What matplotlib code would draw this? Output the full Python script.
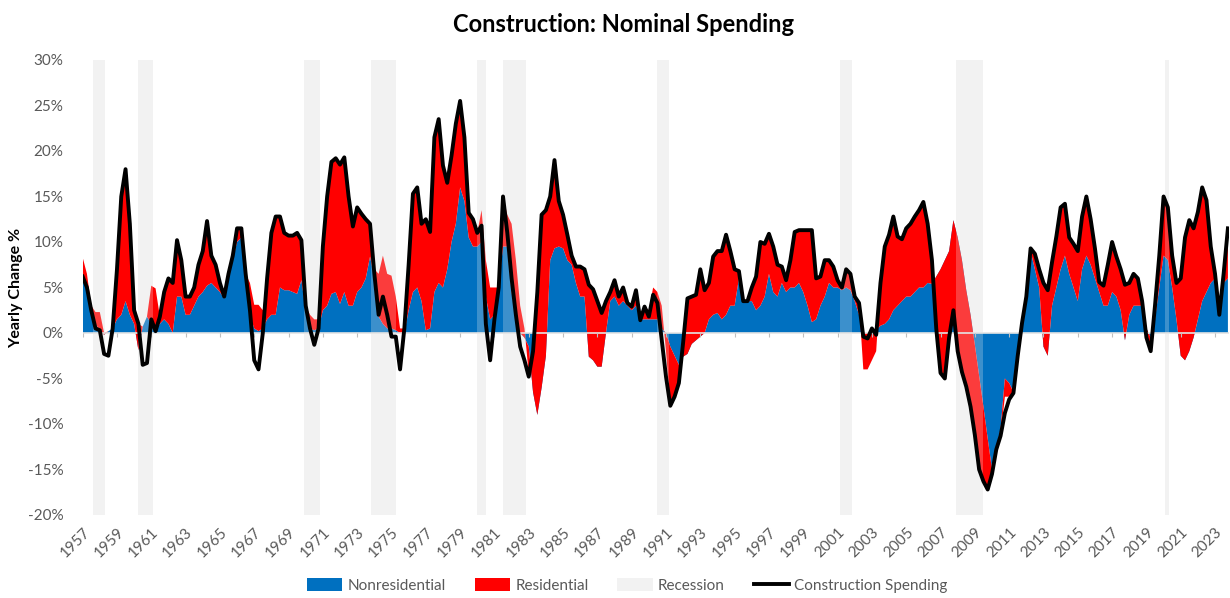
import numpy as np
import matplotlib
matplotlib.use('Agg')
import matplotlib.pyplot as plt
from matplotlib.patches import Patch
from matplotlib.lines import Line2D
from matplotlib.ticker import FuncFormatter

plt.rcParams['font.family'] = ['Lato', 'DejaVu Sans']

# quarterly observations, first quarter of 1957 through last quarter of 2023
start_year = 1957
n_years = 67

# contribution of nonresidential spending to yearly change (%)
nonres = [
    6.2, 5.0, 2.0, 1.0,     0.3, -0.2, 0.2, 0.5,    1.5, 2.0, 3.5, 2.0,     1.0, -1.9, 0.7, 1.8,
    1.0, 0.5, 1.0, 1.5,     1.0, 0.0, 4.0, 4.0,     2.0, 2.0, 3.0, 4.0,     4.5, 5.2, 5.5, 5.0,
    4.5, 3.8, 6.0, 8.0,     10.0, 10.5, 6.0, 2.0,   0.5, 0.2, 0.5, 1.5,     2.0, 2.0, 5.0, 4.7,
    4.7, 4.5, 4.3, 5.8,     2.5, 0.5, 0.3, 0.5,     2.5, 3.0, 4.3, 4.5,     3.2, 4.5, 3.0, 3.0,
    4.5, 5.0, 6.0, 8.4,     6.0, 1.8, 1.0, 0.5,     0.5, 0.3, 0.0, 0.0,     2.5, 4.5, 5.0, 3.5,
    0.3, 0.5, 4.5, 5.5,     5.0, 7.0, 10.0, 12.0,   16.0, 14.5, 10.5, 9.5,  9.5, 10.0, 4.0, 1.5,
    2.0, 5.0, 9.5, 9.5,     4.5, 1.5, 0.0, -0.5,    -1.5, -6.5, -9.0, -6.0, -2.5, 8.0, 9.3, 9.5,
    9.3, 8.0, 7.5, 5.5,     4.0, 4.0, -2.6, -3.0,   -3.7, -3.7, 0.0, 3.5,   4.0, 3.0, 3.5, 3.0,
    2.5, 3.0, 1.5, 1.5,     1.5, 1.5, 1.5, 0.5,     0.0, -1.5, -2.5, -3.5,  -2.6, -2.3, -1.2, -0.8,
    -0.4, 0.0, 1.5, 2.0,    2.2, 1.5, 2.0, 3.0,     3.0, 6.0, 3.3, 3.5,     3.5, 2.5, 3.0, 4.0,
    6.5, 4.5, 4.0, 5.5,     4.5, 5.0, 5.0, 5.5,     4.5, 3.0, 1.2, 1.5,     3.0, 4.0, 5.5, 5.0,
    5.0, 4.7, 5.0, 4.7,     3.5, 2.0, 0.0, 0.0,     0.0, 0.3, 0.8, 1.0,     1.5, 2.5, 3.0, 3.5,
    4.0, 4.0, 4.5, 5.0,     5.0, 5.5, 5.4, 6.2,     7.0, 8.0, 9.0, 12.4,    10.5, 8.0, 4.7, 2.0,
    -1.3, -4.7, -8.1, -11.6, -15.0, -12.8, -10.5, -5.0, -5.5, -6.5, -2.5, 1.0, 4.0, 9.0, 7.0, 5.0,
    -1.5, -2.5, 3.0, 5.0,   7.0, 8.5, 6.5, 5.0,     3.5, 7.0, 8.5, 7.5,     6.0, 4.5, 3.0, 3.0,
    4.5, 4.0, 2.5, -0.8,    2.0, 3.0, 3.0, 3.0,     0.5, -0.5, 1.5, 5.0,    8.5, 8.0, 5.0, 1.5,
    -2.5, -3.0, -2.0, -0.5, 1.5, 3.5, 4.5, 5.5,     6.0, 3.0, 5.5, 6.0,
]

# contribution of residential spending to yearly change (%)
resid = [
    2.1, 1.5, 1.0, 1.3,     2.0, 0.2, 0.0, 0.0,     5.5, 13.0, 14.5, 10.0,  1.5, 2.9, 0.0, 0.0,
    4.2, 4.4, 0.8, 3.0,     5.0, 5.5, 6.2, 4.0,     2.0, 2.0, 2.0, 3.5,     4.5, 7.1, 3.0, 2.5,
    1.0, 0.2, 0.5, 0.5,     1.5, 1.0, 0.5, 3.5,     2.6, 2.9, 2.0, 4.5,     9.0, 10.8, 7.8, 6.3,
    6.0, 6.2, 6.7, 4.4,     0.5, 1.5, 1.2, 1.0,     7.0, 12.0, 14.5, 14.7,  15.3, 14.8, 12.0, 8.7,
    9.3, 8.1, 6.5, 3.6,     1.0, 4.7, 7.5, 6.0,     5.8, 3.7, 0.5, 0.5,     5.0, 10.8, 11.0, 8.5,
    12.2, 10.6, 17.0, 18.0, 13.4, 9.5, 9.5, 11.0,   9.5, 7.0, 2.7, 3.0,     1.5, 3.5, 4.0, 3.5,
    3.0, 0.0, 5.5, 3.5,     7.5, 6.5, 3.0, 1.0,     -3.0, 4.5, 13.5, 19.0,  16.0, 7.0, 9.7, 5.0,
    3.7, 2.8, 1.0, 1.8,     3.3, 3.0, 7.9, 7.8,     7.2, 5.9, 3.5, 1.0,     1.8, 1.0, 1.5, 0.3,
    0.4, 1.7, -0.1, 1.4,    1.0, 3.5, 3.0, 2.5,     -2.0, -6.5, -4.5, -2.0, 1.6, 6.1, 5.2, 5.0,
    7.4, 4.7, 4.0, 6.4,     6.8, 7.5, 8.8, 6.0,     4.0, 0.8, 0.2, 0.0,     1.5, 3.7, 7.0, 5.8,
    4.4, 5.0, 3.5, 1.8,     1.3, 3.0, 6.1, 5.8,     6.8, 8.3, 10.1, 4.5,    3.2, 4.0, 2.5, 2.3,
    0.8, 0.3, 2.0, 1.8,     0.5, 1.3, -4.0, -4.0,   -3.0, -2.3, 4.7, 8.5,   9.3, 10.3, 7.6, 6.8,
    7.5, 8.0, 8.3, 8.5,     9.4, 6.5, 2.6, -5.7,    -11.4, -13.0, -9.5, -9.9, -12.5, -12.3, -10.6, -10.1,
    -9.9, -10.3, -8.2, -5.6, -0.5, 0.0, -0.8, -2.0, -1.5, -0.1, 0.0, 0.1,   0.0, 0.3, 1.7, 2.0,
    7.0, 7.2, 4.8, 5.6,     6.8, 5.7, 4.0, 4.8,     5.5, 5.8, 6.5, 5.0,     3.3, 1.1, 2.2, 4.5,
    5.5, 4.4, 4.5, 6.1,     3.5, 3.5, 3.0, 0.5,     -1.0, -1.5, 1.5, 3.5,   6.5, 5.8, 3.5, 4.0,
    8.5, 13.5, 14.4, 12.0,  11.8, 12.5, 10.1, 4.0,  0.5, 0.0, 2.5, 3.5,
]

# total construction spending, yearly change (%)
total = [
    6.2, 5.0, 2.5, 0.5,     0.3, -2.3, -2.5, 0.5,   7.0, 15.0, 18.0, 12.0,  2.5, 1.0, -3.5, -3.3,
    1.5, 0.2, 1.8, 4.5,     6.0, 5.5, 10.2, 8.0,    4.0, 4.0, 5.0, 7.5,     9.0, 12.3, 8.5, 7.5,
    5.5, 4.0, 6.5, 8.5,     11.5, 11.5, 6.5, 2.5,   -3.0, -4.0, 0.0, 6.0,   11.0, 12.8, 12.8, 11.0,
    10.7, 10.7, 11.0, 10.2, 3.0, 0.5, -1.3, 0.5,    9.5, 15.0, 18.8, 19.2,  18.5, 19.3, 15.0, 11.7,
    13.8, 13.1, 12.5, 12.0, 6.5, 2.0, 4.0, 2.0,     -0.4, -0.4, -4.0, 0.5,  7.5, 15.3, 16.0, 12.0,
    12.5, 11.1, 21.5, 23.5, 18.4, 16.5, 19.5, 23.0, 25.5, 21.5, 13.2, 12.5, 11.0, 11.8, 1.0, -3.0,
    1.5, 5.0, 15.0, 11.0,   6.0, 2.0, -1.5, -3.0,   -4.8, -2.0, 4.5, 13.0,  13.5, 15.0, 19.0, 14.5,
    13.0, 10.8, 8.5, 7.3,   7.3, 7.0, 5.3, 4.8,     3.5, 2.2, 3.5, 4.5,     5.8, 4.0, 5.0, 3.3,
    2.9, 4.7, 1.4, 2.9,     1.8, 4.2, 3.3, -0.8,    -4.8, -8.0, -7.0, -5.5, -1.0, 3.8, 4.0, 4.2,
    7.0, 4.7, 5.5, 8.4,     9.0, 9.0, 10.8, 9.0,    7.0, 6.8, 3.5, 3.5,     5.0, 6.2, 10.0, 9.8,
    10.9, 9.5, 7.5, 7.3,    5.8, 8.0, 11.1, 11.3,   11.3, 11.3, 11.3, 6.0,  6.2, 8.0, 8.0, 7.3,
    5.8, 5.0, 7.0, 6.5,     4.0, 3.3, -0.4, -0.6,   0.5, -0.2, 5.5, 9.5,    10.8, 12.8, 10.6, 10.3,
    11.5, 12.0, 12.8, 13.5, 14.4, 12.0, 8.0, 0.5,   -4.4, -5.0, -0.5, 2.5,  -2.0, -4.3, -5.9, -8.1,
    -11.2, -15.0, -16.3, -17.2, -15.5, -12.8, -11.3, -8.8, -7.3, -6.6, -2.5, 1.1, 4.0, 9.3, 8.7, 7.0,
    5.5, 4.7, 7.8, 10.6,    13.8, 14.2, 10.5, 9.8,  9.0, 12.8, 15.0, 12.5,  9.3, 5.6, 5.2, 7.5,
    10.0, 8.4, 7.0, 5.3,    5.5, 6.5, 6.0, 3.5,     -0.5, -2.0, 3.0, 8.5,   15.0, 13.8, 8.5, 5.5,
    6.0, 10.5, 12.4, 11.5,  13.3, 16.0, 14.6, 9.5,  6.5, 2.0, 6.5, 11.5,
]

# NBER recessions (fractional years)
rec_start = [1957.58, 1960.25, 1969.92, 1973.83, 1980.0, 1981.5, 1990.5, 2001.17, 2007.92, 2020.08]
rec_end = [1958.33, 1961.08, 1970.83, 1975.25, 1980.5, 1982.83, 1991.17, 2001.83, 2009.5, 2020.33]

tick_years = list(range(1957, 2024, 2))

blue = '#0070C0'
red = '#FF0000'
rec_color = '#F2F2F2'
grey_text = '#595959'

t = start_year + np.arange(n_years * 4) * 0.25

fig = plt.figure(figsize=(12.3, 5.98), dpi=100)
ax = fig.add_axes([0.0672, 0.1388, 0.9318, 0.7609])

for s, e in zip(rec_start, rec_end):
    ax.axvspan(s, e, color=rec_color, lw=0, zorder=0)

ax.stackplot(t, np.array(nonres), np.array(resid), colors=[blue, red],
             linewidth=0, zorder=1)

# recession shading also washes over the areas
for s, e in zip(rec_start, rec_end):
    ax.axvspan(s, e, color=rec_color, alpha=0.25, lw=0, zorder=2)

ax.axhline(0, color='#e4e4e4', lw=1.2, zorder=3)
ax.vlines(tick_years, -0.45, 0, color='#bfbfbf', lw=0.8, zorder=3)

ax.plot(t, total, color='black', lw=2.8, solid_joinstyle='round', zorder=4)

ax.set_xlim(1957, 2023.8)
ax.set_ylim(-20, 30)
ax.set_yticks(np.arange(-20, 31, 5))
ax.yaxis.set_major_formatter(FuncFormatter(lambda v, p: f'{int(round(v))}%'))
ax.set_xticks(tick_years)
ax.set_xticklabels([str(y) for y in tick_years], rotation=45, ha='right',
                   rotation_mode='anchor')
ax.tick_params(axis='both', length=0, colors=grey_text, labelsize=11)
ax.tick_params(axis='y', pad=14)
ax.tick_params(axis='x', pad=7)
for sp in ax.spines.values():
    sp.set_visible(False)
ax.grid(False)

ax.set_ylabel('Yearly Change %', fontsize=11.5, fontweight='bold', color='black', labelpad=3)
fig.suptitle('Construction: Nominal Spending', fontsize=17, fontweight='bold', x=0.507, y=0.978)

handles = [
    Patch(facecolor=blue, edgecolor='none', label='Nonresidential'),
    Patch(facecolor=red, edgecolor='none', label='Residential'),
    Patch(facecolor=rec_color, edgecolor='none', label='Recession'),
    Line2D([0], [0], color='black', lw=2.8, label='Construction Spending'),
]
leg = fig.legend(handles=handles, loc='lower center', bbox_to_anchor=(0.51, -0.014), ncol=4,
                 frameon=False, fontsize=11, handlelength=2.3, handleheight=0.9,
                 columnspacing=1.9, handletextpad=0.35)
for txt in leg.get_texts():
    txt.set_color(grey_text)

fig.savefig('out.png', dpi=100)
